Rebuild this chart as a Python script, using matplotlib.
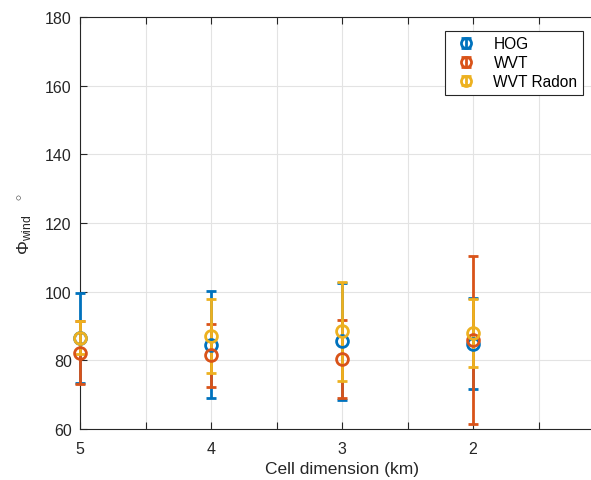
import numpy as np
import matplotlib
matplotlib.use("Agg")
import matplotlib.pyplot as plt
from matplotlib.container import ErrorbarContainer
from matplotlib.legend_handler import HandlerErrorbar

plt.rcParams['font.family'] = ['Liberation Sans', 'DejaVu Sans']
plt.rcParams['mathtext.fontset'] = 'custom'
plt.rcParams['mathtext.rm'] = 'Liberation Sans'
plt.rcParams['mathtext.it'] = 'Liberation Sans:italic'

# cell dimension (km) and mean wind direction +/- std for each method
cell_km = [5, 4, 3, 2]
hog_mean = [86.5, 84.5, 85.5, 84.9]
hog_err = [13.2, 15.6, 17.0, 13.3]
wvt_mean = [82.2, 81.5, 80.4, 86.0]
wvt_err = [9.2, 9.2, 11.4, 24.4]
radon_mean = [86.6, 87.2, 88.4, 88.0]
radon_err = [4.9, 10.8, 14.4, 9.8]

series = [
    ("HOG", hog_mean, hog_err, "#0072BD"),
    ("WVT", wvt_mean, wvt_err, "#D95319"),
    ("WVT Radon", radon_mean, radon_err, "#EDB120"),
]

fig = plt.figure(figsize=(5.91, 4.81), dpi=100)
ax = fig.add_axes([80 / 591, 1 - 430 / 481, 524 / 591, 412 / 481])

for name, m, e, c in series:
    eb = ax.errorbar(cell_km, m, yerr=e, fmt='o', color=c, mfc='none', mec=c,
                     markersize=8.5, mew=2, elinewidth=2, capsize=3.6, capthick=2,
                     label=name, zorder=3)
    for art in eb.get_children():
        art.set_clip_on(False)

ax.set_xlim(5, 1)
ax.set_ylim(60, 180)
xt = np.arange(5, 1.4, -0.5)
ax.set_xticks(xt)
ax.set_xticklabels([str(int(v)) if v == int(v) else '' for v in xt])
ax.set_yticks(np.arange(60, 181, 20))
ax.tick_params(direction='in', top=True, right=False, labelsize=11.5,
               colors='#262626', length=5, width=0.8)
ax.tick_params(axis='x', pad=9)
ax.tick_params(axis='y', pad=6)
ax.grid(True, color='#e3e3e3', linewidth=0.8, zorder=0)
ax.set_axisbelow(True)
for s in ax.spines.values():
    s.set_color('#262626')
    s.set_linewidth(0.8)

ax.set_xlabel("Cell dimension (km)", fontsize=12.5, color='#262626', labelpad=3)
ax.set_ylabel(r"$\Phi_{\mathrm{wind}}\ \ \ ^{\circ}$", fontsize=12.5,
              color='#262626', labelpad=8)

leg = ax.legend(loc='upper right', bbox_to_anchor=(0.96, 0.966), fontsize=11.2,
                fancybox=False, framealpha=1, edgecolor='#262626',
                handlelength=2.0, handletextpad=0.75, borderpad=0.35,
                labelspacing=0.25, borderaxespad=0, markerscale=0.85,
                handler_map={ErrorbarContainer: HandlerErrorbar(xerr_size=0.3, yerr_size=0.3)})
leg.get_frame().set_linewidth(0.8)

fig.savefig("out.png", dpi=100)
